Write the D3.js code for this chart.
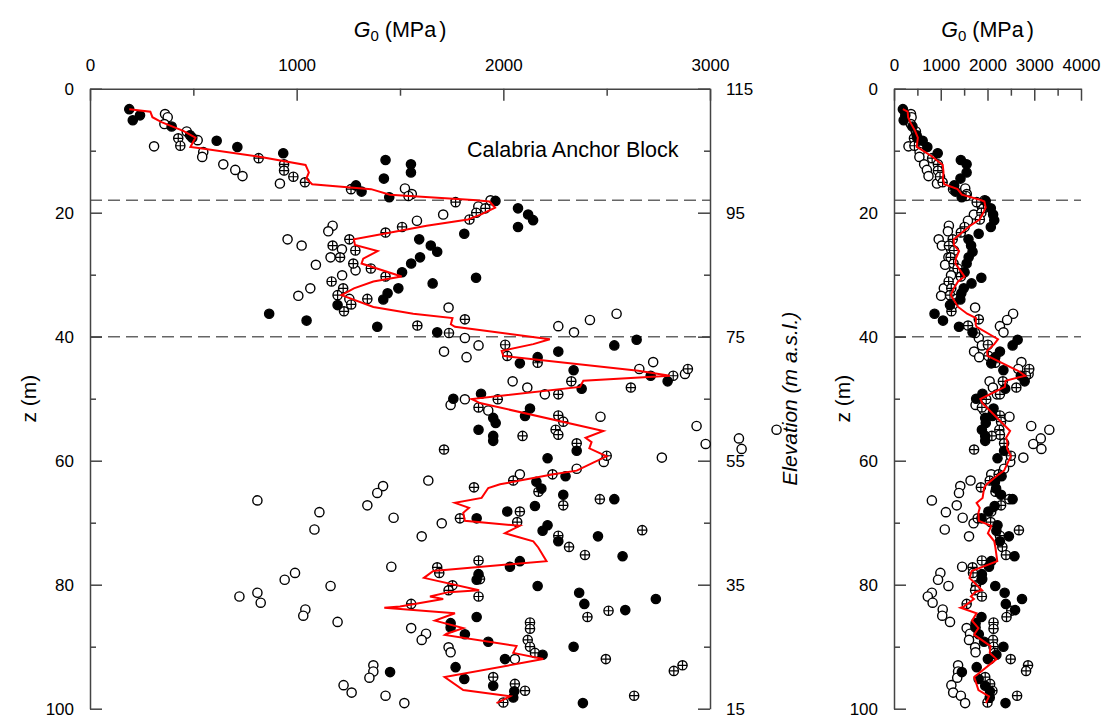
<!DOCTYPE html>
<meta charset="utf-8">
<style>

body {
  margin: 0;
  background: #fff;
}

svg {
  font-family: "Liberation Sans", Arial, sans-serif;
}

.axis path,
.axis line {
  stroke: #444;
  stroke-width: 1.5px;
}

.axis text {
  font-size: 17px;
  fill: #000;
}

</style>

<body>

<script src="https://d3js.org/d3.v7.min.js"></script>
<script>

// [G0 (MPa), z (m)]
var filledPts = [
  [190,3.3],[207,5.1],[242,4.3],[395,6.1],[484,7.5],[495,7.9],[613,8.4],[713,9.4],[935,10.4],
  [1430,11.5],[1553,12.2],[1553,13.5],[1422,14.5],[1287,15.6],[1314,16.6],[1448,17.5],[1962,18.1],
  [2071,19.3],[2120,20.3],[2144,21.2],[2071,22.3],[1811,23.4],[1593,24.3],[1649,25.3],[1680,26.3],
  [1597,27.2],[1554,28.2],[1510,29.6],[1868,30.5],[1658,31.4],[1492,32.2],[1440,33.0],[1419,34.0],[1198,34.9],
  [867,36.3],[1048,37.4],[1390,38.4],[1680,39.3],[2266,42.4],[2645,40.5],[2537,41.4],
  [2166,43.3],[2080,44.3],[2340,45.4],[2713,46.3],[2795,47.2],[2379,48.4],[1892,49.2],[1758,50.0],
  [2129,51.6],[2105,52.8],[1951,53.1],[1963,53.9],[1880,55.0],[1951,56.0],[1951,56.8],
  [2355,58.4],[2214,59.6],[2301,62.5],[2160,63.4],[2184,64.5],[2290,65.5],[2537,66.2],
  [2153,67.3],[2019,68.2],[1871,69.3],[2214,70.4],[2190,71.3],[2458,72.2],[2266,73.0],[2577,75.4],
  [2080,76.2],[2032,77.1],[1880,78.3],[1871,79.2],[2166,80.2],[2367,81.3],[2738,82.3],[2392,83.1],[2590,84.1],
  [1871,85.2],[1745,86.2],[1745,86.9],[1814,88.0],[1927,89.2],[2340,90.0],[2190,91.3],[2008,92.0],
  [1769,93.3],[1452,94.1],[1811,95.2],[1951,96.3],[2053,97.2],[2048,98.2],[2385,99.1]
];

var openPts = [
  [363,4.1],[376,4.6],[360,5.7],[468,6.9],[521,8.3],[310,9.3],[548,10.2],[543,11.0],[645,12.2],[703,13.1],[738,14.1],[919,15.3],
  [1524,16.1],[1557,17.0],[1938,18.0],[1879,19.0],[1709,20.3],[1582,21.3],[1174,22.1],[1153,23.0],[956,24.3],[1024,25.3],
  [1219,25.9],[1164,27.2],[1093,28.4],[1285,29.3],[1220,30.1],[1066,32.2],[1008,33.4],[1255,33.9],
  [1735,35.3],[2548,36.3],[2419,37.3],[2266,38.3],[2342,39.3],[1814,40.2],[1880,41.4],[1713,42.4],[1822,43.3],
  [2725,44.1],[2658,45.2],[2879,46.0],[2045,47.2],[2116,48.2],[2201,49.3],[1814,50.1],[1745,51.0],[1927,51.9],
  [2470,52.9],[2935,54.4],[3322,55.0],[3140,56.4],[2979,57.3],[3153,58.1],[2767,59.5],[2486,60.2],[2355,61.3],
  [2080,62.2],[1637,63.2],[1418,64.1],[1390,65.2],
  [810,66.4],[1342,67.2],[1110,68.3],[1469,69.2],[1702,70.1],[1086,71.1],[1605,72.2],
  [1458,77.1],[992,78.1],[942,79.2],[1164,80.2],[810,81.3],[723,81.9],[826,82.9],[1042,84.0],[1032,85.0],
  [1198,86.0],[1554,87.0],[1626,87.9],[1605,88.9],[1735,90.1],[1745,90.9],
  [2056,92.0],[1371,93.0],[1371,94.0],[1352,95.0],[1227,96.2],[1266,97.4],[1430,97.9],[1521,99.1]
];

var plusPts = [
  [427,8.0],[437,9.2],[816,11.2],[939,12.2],[939,13.2],[984,14.2],[1040,15.1],[1263,16.2],[1541,17.3],
  [1769,18.3],[1913,19.3],[1869,20.0],[1836,21.1],
  [1510,22.3],[1430,23.2],[1255,24.3],[1174,25.3],[1284,26.1],[1210,27.2],[1274,28.2],[1359,29.0],
  [1430,30.3],[1169,31.1],[1225,32.2],[1198,33.3],[1342,33.9],[1264,34.8],[1229,35.9],
  [1814,37.2],[1584,38.2],[1737,39.4],[2009,41.3],[2019,43.1],[2166,44.2],[2893,45.2],[2822,46.3],
  [2329,47.2],[2617,48.2],[1973,50.1],[1880,51.4],[2266,49.3],[2266,52.7],[2290,53.7],[2253,55.0],
  [2266,55.8],[2093,56.0],[2355,57.2],[1713,58.2],[2500,59.2],
  [2238,62.2],[2048,63.2],[1858,64.3],[2170,65.0],[2467,66.2],[2290,67.2],[2080,68.2],[1790,69.3],
  [2067,69.9],[2672,71.2],[2266,72.1],[2318,73.9],[2395,75.2],
  [1880,76.1],[1680,77.2],[1690,78.1],[1887,79.1],[1754,80.1],[1735,80.9],[1880,81.9],[1554,83.1],
  [2509,84.2],[2407,85.2],[2129,86.1],[2129,87.1],[2118,88.9],[2129,90.0],[2153,91.0],[2496,92.0],
  [2867,93.0],[2825,93.9],[1951,94.9],[2056,96.0],[2105,97.1],[2633,97.9],[2000,99.0]
];

// average profile
var meanLine = [
  [190,3.3],[292,3.7],[302,4.6],[346,5.4],[451,6.8],[510,7.9],[486,9.4],[534,9.6],[806,10.9],
  [1043,12.3],[1059,13.5],[1047,14.5],[1075,15.4],[1360,16.2],[1451,17.1],[1854,17.95],[1933,18.2],
  [1960,19.2],[1890,20.3],[1829,21.1],[1629,22.1],[1435,23.3],[1277,24.3],[1282,25.2],[1392,26.2],
  [1322,27.4],[1314,28.2],[1508,30.3],[1371,31.1],[1277,32.2],[1217,33.3],[1371,35.2],[1564,36.3],
  [1754,37.0],[1746,38.0],[1766,38.4],[2225,40.4],[2145,41.2],[1992,42.3],[2000,43.1],[2653,45.5],
  [2806,46.3],[2387,47.1],[2371,48.1],[1847,50.05],[1887,50.7],[2484,55.2],[2398,56.3],[2427,57.0],
  [2416,58.0],[2500,59.3],[2435,60.3],[2355,61.6],[2242,62.2],[1984,63.8],[1927,64.4],[1895,66.0],
  [1766,66.8],[1834,67.6],[1806,68.4],[1814,69.7],[2080,70.5],[2008,71.7],[2145,73.0],[2169,74.0],
  [2209,76.2],[1661,77.8],[1616,78.9],[1883,80.9],[1735,81.2],[1645,81.9],[1709,82.3],[1500,83.5],
  [1424,83.7],[1766,84.6],[1669,85.8],[1806,87.0],[1726,87.9],[1717,88.1],[2064,89.9],[2048,91.0],
  [2193,92.0],[1716,94.9],[1806,97.0],[2032,98.0],[1967,99.1]
];

var layerDepths = [18, 40];
var zTicks = [0, 20, 40, 60, 80, 100];
var zMinor = [10, 30, 50, 70, 90];
var elevTicks = [115, 95, 75, 55, 35, 15];
var elevMinor = [105, 85, 65, 45, 25];

var panels = [
  {x0: 90, x1: 710, max: 3000, major: [0, 1000, 2000, 3000], minor: [500, 1500, 2500]},
  {x0: 894, x1: 1081, max: 4000, major: [0, 1000, 2000, 3000, 4000], minor: [500, 1500, 2500, 3500]}
];

var width = 1105, height = 715,
    top0 = 88.7, bottom0 = 708.7,
    rad = 4.6;

var fmt = d3.format("d");

var svg = d3.select("body").append("svg")
    .attr("width", width)
    .attr("height", height);

var y = d3.scaleLinear().domain([0, 100]).range([top0, bottom0]);
var elev = d3.scaleLinear().domain([115, 15]).range([top0, bottom0]);

panels.forEach(function(p, i) {
  var x = d3.scaleLinear().domain([0, p.max]).range([p.x0, p.x1]);
  var g = svg.append("g");

  // dashed layer boundaries
  g.selectAll(".layer")
    .data(layerDepths)
    .enter().append("line")
      .attr("x1", p.x0).attr("x2", p.x1)
      .attr("y1", function(d) { return y(d); })
      .attr("y2", function(d) { return y(d); })
      .style("stroke", "#666")
      .style("stroke-width", 1.5)
      .style("stroke-dasharray", "12,6");

  // top axis
  g.append("g").attr("class", "axis")
    .attr("transform", "translate(0," + top0 + ")")
    .call(d3.axisTop(x).tickValues(p.major).tickFormat(fmt).tickSize(-12).tickSizeOuter(0).tickPadding(18));
  g.append("g").attr("class", "axis")
    .attr("transform", "translate(0," + top0 + ")")
    .call(d3.axisTop(x).tickValues(p.minor).tickSize(-7).tickFormat(""))
    .select(".domain").remove();

  // left z axis
  g.append("g").attr("class", "axis")
    .attr("transform", "translate(" + p.x0 + ",0)")
    .call(d3.axisLeft(y).tickValues(zTicks).tickFormat(fmt).tickSize(-12).tickSizeOuter(0).tickPadding(16));
  g.append("g").attr("class", "axis")
    .attr("transform", "translate(" + p.x0 + ",0)")
    .call(d3.axisLeft(y).tickValues(zMinor).tickSize(-6).tickFormat(""))
    .select(".domain").remove();

  if (i == 0) {
    g.append("g").attr("class", "axis")
      .attr("transform", "translate(" + p.x1 + ",0)")
      .call(d3.axisRight(elev).tickValues(elevTicks).tickFormat(fmt).tickSize(-12).tickSizeOuter(0).tickPadding(16));
    g.append("g").attr("class", "axis")
      .attr("transform", "translate(" + p.x1 + ",0)")
      .call(d3.axisRight(elev).tickValues(elevMinor).tickSize(-6).tickFormat(""))
      .select(".domain").remove();
  }

  // open circles
  g.selectAll(".open")
    .data(openPts)
    .enter().append("circle")
      .attr("cx", function(d) { return x(d[0]); })
      .attr("cy", function(d) { return y(d[1]); })
      .attr("r", rad)
      .style("fill", "#fff")
      .style("stroke", "#000")
      .style("stroke-width", 1.4);

  // crossed circles
  var pg = g.selectAll(".plus")
    .data(plusPts)
    .enter().append("g")
      .attr("transform", function(d) { return "translate(" + x(d[0]) + "," + y(d[1]) + ")"; });
  pg.append("circle")
      .attr("r", rad)
      .style("fill", "#fff")
      .style("stroke", "#000")
      .style("stroke-width", 1.4);
  pg.append("path")
      .attr("d", "M" + (-rad) + ",0H" + rad + "M0," + (-rad) + "V" + rad)
      .style("stroke", "#000")
      .style("stroke-width", 1.2);

  // filled circles
  g.selectAll(".filled")
    .data(filledPts)
    .enter().append("circle")
      .attr("cx", function(d) { return x(d[0]); })
      .attr("cy", function(d) { return y(d[1]); })
      .attr("r", rad)
      .style("fill", "#000")
      .style("stroke", "#000")
      .style("stroke-width", 1.4);

  var line = d3.line()
    .x(function(d) { return x(d[0]); })
    .y(function(d) { return y(d[1]); });

  g.append("path")
    .datum(meanLine)
    .attr("d", line)
    .style("fill", "none")
    .style("stroke", "#ff0000")
    .style("stroke-width", 2);

  // G0 title
  var t = g.append("text")
    .attr("x", (p.x0 + p.x1) / 2)
    .attr("y", 37)
    .attr("text-anchor", "middle")
    .style("font-size", "21.5px");
  t.append("tspan").style("font-style", "italic").text("G");
  t.append("tspan").attr("dy", 4).style("font-size", "15px").text("0");
  t.append("tspan").attr("dy", -4).text(" (MPa");
  t.append("tspan").attr("dx", 3).text(")");

  g.append("text")
    .attr("transform", "translate(" + (p.x0 - (i == 0 ? 54 : 44)) + "," + (top0 + bottom0) / 2 + ") rotate(-90)")
    .attr("text-anchor", "middle")
    .style("font-size", "21px")
    .text("z (m)");
});

svg.append("text")
  .attr("transform", "translate(797," + (top0 + bottom0) / 2 + ") rotate(-90)")
  .attr("text-anchor", "middle")
  .style("font-size", "21px")
  .style("font-style", "italic")
  .text("Elevation (m a.s.l.)");

svg.append("text")
  .attr("x", 467)
  .attr("y", 157)
  .style("font-size", "21.5px")
  .text("Calabria Anchor Block");

</script>
</body>
